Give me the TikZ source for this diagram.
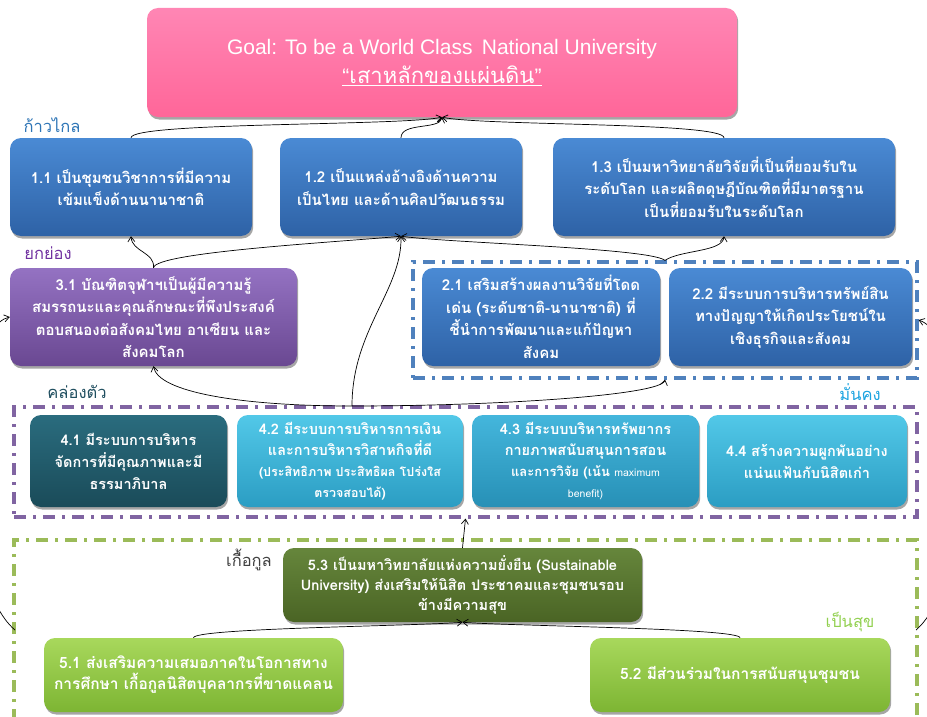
\documentclass[tikz,border=0pt]{standalone}
\usepackage{fontspec}
\setmainfont{Liberation Sans}
\newfontfamily\thaifont[Script=Thai]{Loma}
\usetikzlibrary{shadows,arrows.meta}
\definecolor{pinkT}{HTML}{FF86B4}
\definecolor{pinkB}{HTML}{FF6699}
\definecolor{blueT}{HTML}{4A8AD4}
\definecolor{blueB}{HTML}{2E62A6}
\definecolor{purpT}{HTML}{9472C2}
\definecolor{purpB}{HTML}{6A4892}
\definecolor{tealT}{HTML}{2A6C7E}
\definecolor{tealB}{HTML}{1A4B59}
\definecolor{cyanT}{HTML}{52C8E8}
\definecolor{cyanB}{HTML}{2B9DC3}
\definecolor{cyanBT}{HTML}{44B6DC}
\definecolor{cyanBB}{HTML}{2790B6}
\definecolor{oliveT}{HTML}{66863C}
\definecolor{oliveB}{HTML}{4A6424}
\definecolor{lgT}{HTML}{A8D85C}
\definecolor{lgB}{HTML}{7DB533}
\definecolor{frBlue}{HTML}{4F81BD}
\definecolor{frPurp}{HTML}{8064A2}
\definecolor{frGreen}{HTML}{9BBB59}
\definecolor{lblBlue}{HTML}{2E75B6}
\definecolor{lblPurp}{HTML}{7030A0}
\definecolor{lblTeal}{HTML}{1F4E5F}
\definecolor{lblCyan}{HTML}{1BA3E0}
\definecolor{lblGray}{HTML}{404040}
\definecolor{lblGreen}{HTML}{92D050}
\tikzset{
  box/.style={rounded corners=11pt, text=white, align=center, inner sep=2pt,
    font=\thaifont\bfseries\fontsize{15}{22.5}\selectfont,
    drop shadow={shadow xshift=1.2pt, shadow yshift=-2.5pt, opacity=0.35, fill=black}},
  bluebox/.style={box, top color=blueT, bottom color=blueB},
  purpbox/.style={box, top color=purpT, bottom color=purpB},
  tealbox/.style={box, top color=tealT, bottom color=tealB, font=\thaifont\bfseries\fontsize{14.5}{22}\selectfont},
  cyanbox/.style={box, top color=cyanT, bottom color=cyanB, font=\thaifont\bfseries\fontsize{14.5}{22}\selectfont},
  cyandbox/.style={box, top color=cyanBT, bottom color=cyanBB, font=\thaifont\bfseries\fontsize{14.5}{22}\selectfont},
  olivebox/.style={box, top color=oliveT, bottom color=oliveB, font=\thaifont\bfseries\fontsize{14.5}{20}\selectfont},
  lgbox/.style={box, top color=lgT, bottom color=lgB, font=\thaifont\bfseries\fontsize{15.5}{21}\selectfont},
  frame/.style={draw, line width=3.2pt, dash pattern=on 12pt off 7pt on 3pt off 7pt, inner sep=0pt},
  lbl/.style={font=\thaifont\fontsize{16.5}{18}\selectfont, inner sep=0pt},
  conn/.style={-{Straight Barb[length=5pt,width=7pt,line width=0.7pt]}, line width=0.7pt, black}
}
\begin{document}
\begin{tikzpicture}[x=1pt,y=-1pt]
\useasboundingbox (0,0) rectangle (927,717);
\clip (0,0) rectangle (927,717);
% frames
\node (f2) [frame, color=frBlue, minimum width=504pt, minimum height=116pt] at (665,320) {};
\node (f4) [frame, color=frPurp, minimum width=903pt, minimum height=110pt] at (465.5,462) {};
\node (f5) [frame, color=frGreen, minimum width=903pt, minimum height=200pt] at (465.5,640) {};
% goal
\node (goal) [box, top color=pinkT, bottom color=pinkB, minimum width=590pt, minimum height=109pt, font=\fontsize{21}{29}\selectfont] at (442,62.5)
  {Goal: To be a World Class\, National University\\ \underline{“{\thaifont\fontsize{22}{29}\selectfont เสาหลักของแผ่นดิน}”}};
% level 1
\node (b11) [bluebox, minimum width=242pt, minimum height=98pt] at (131,187)
  {1.1 เป็นชุมชนวิชาการที่มีความ\\เข้มแข็งด้านนานาชาติ};
\node (b12) [bluebox, minimum width=242pt, minimum height=98pt] at (401,187)
  {1.2 เป็นแหล่งอ้างอิงด้านความ\\เป็นไทย และด้านศิลปวัฒนธรรม};
\node (b13) [bluebox, minimum width=342pt, minimum height=98pt] at (724,187)
  {1.3 เป็นมหาวิทยาลัยวิจัยที่เป็นที่ยอมรับใน\\ระดับโลก และผลิตดุษฎีบัณฑิตที่มีมาตรฐาน\\เป็นที่ยอมรับในระดับโลก};
% level 2/3
\node (b31) [purpbox, minimum width=287pt, minimum height=98pt] at (153.5,317)
  {3.1 บัณฑิตจุฬาฯเป็นผู้มีความรู้\\สมรรถนะและคุณลักษณะที่พึงประสงค์\\ตอบสนองต่อสังคมไทย อาเซียน และ\\สังคมโลก};
\node (b21) [bluebox, minimum width=238pt, minimum height=98pt] at (541,317)
  {2.1 เสริมสร้างผลงานวิจัยที่โดด\\เด่น (ระดับชาติ-นานาชาติ) ที่\\ชี้นำการพัฒนาและแก้ปัญหา\\สังคม};
\node (b22) [bluebox, minimum width=243pt, minimum height=98pt] at (790.5,317)
  {2.2 มีระบบการบริหารทรัพย์สิน\\ทางปัญญาให้เกิดประโยชน์ใน\\เชิงธุรกิจและสังคม};
% level 4
\node (b41) [tealbox, minimum width=197pt, minimum height=92pt] at (128.5,461)
  {4.1 มีระบบการบริหาร\\จัดการที่มีคุณภาพและมี\\ธรรมาภิบาล};
\node (b42) [cyanbox, minimum width=226pt, minimum height=92pt, font=\thaifont\bfseries\fontsize{14.5}{21}\selectfont] at (350,461)
  {4.2 มีระบบการบริหารการเงิน\\และการบริหารวิสาหกิจที่ดี\\{\fontsize{12.5}{19}\selectfont(ประสิทธิภาพ ประสิทธิผล โปร่งใส}\\{\fontsize{12.5}{19}\selectfont ตรวจสอบได้)}};
\node (b43) [cyandbox, minimum width=227pt, minimum height=92pt, font=\thaifont\bfseries\fontsize{14.5}{21}\selectfont] at (585.5,461)
  {4.3 มีระบบบริหารทรัพยากร\\กายภาพสนับสนุนการสอน\\{\fontsize{13}{19}\selectfont และการวิจัย (เน้น {\mdseries\fontsize{10.5}{12}\selectfont maximum}}\\{\mdseries\fontsize{10.5}{12}\selectfont benefit)}};
\node (b44) [cyanbox, minimum width=200pt, minimum height=92pt] at (807,461)
  {4.4 สร้างความผูกพันอย่าง\\แน่นแฟ้นกับนิสิตเก่า};
% level 5
\node (b53) [olivebox, minimum width=359pt, minimum height=74pt] at (462.5,585)
  {5.3 เป็นมหาวิทยาลัยแห่งความยั่งยืน (Sustainable\\University) ส่งเสริมให้นิสิต ประชาคมและชุมชนรอบ\\ข้างมีความสุข};
\node (b51) [lgbox, minimum width=299pt, minimum height=74pt] at (193.5,675)
  {5.1 ส่งเสริมความเสมอภาคในโอกาสทาง\\การศึกษา เกื้อกูลนิสิตบุคลากรที่ขาดแคลน};
\node (b52) [lgbox, minimum width=300pt, minimum height=74pt] at (740,675)
  {5.2 มีส่วนร่วมในการสนับสนุนชุมชน};
% labels
\node (l1) [lbl, text=lblBlue] at (52,125) {ก้าวไกล};
\node (l2) [lbl, text=lblPurp] at (48,253) {ยกย่อง};
\node (l3) [lbl, text=lblTeal] at (77,392) {คล่องตัว};
\node (l4) [lbl, text=lblCyan] at (860,392) {มั่นคง};
\node (l5) [lbl, text=lblGray] at (249,560) {เกื้อกูล};
\node (l6) [lbl, text=lblGreen] at (850,622) {เป็นสุข};
% coordinates
\coordinate (p4) at (352,406);
\coordinate (g5w) at (15,630);
\coordinate (g5e) at (916,630);
% connectors
\draw[conn] (b11.north) .. controls (131,122) and (400,126) .. (goal.south);
\draw[conn] (b12.north) .. controls (401,122) and (440,130) .. (goal.south);
\draw[conn] (b13.north) .. controls (724,122) and (484,126) .. (goal.south);
\draw[conn] (b31.north) .. controls (155,252) and (340,242) .. (b12.south);
\draw[conn] (b31.north) .. controls (155,252) and (132,252) .. (b11.south);
\draw[conn] (f2.north) .. controls (650,248) and (450,243) .. (b12.south);
\draw[conn] (f2.north) .. controls (680,250) and (723,252) .. (b13.south);
\draw[conn] (p4) .. controls (352,330) and (402,290) .. (b12.south);
\draw[conn] (p4) .. controls (240,406) and (158,392) .. (b31.south);
\draw[conn] (p4) .. controls (500,406) and (662,395) .. (f2.south);
\draw[conn] (b53.north) -- (f4.south);
\draw[conn] (b51.north) .. controls (193,628) and (420,626) .. (b53.south);
\draw[conn] (b52.north) .. controls (740,628) and (505,626) .. (b53.south);
\draw[conn] (g5w) .. controls (-45,580) and (-45,330) .. (b31.west);
\draw[conn] (g5e) .. controls (975,580) and (975,340) .. (f2.east);
\end{tikzpicture}
\end{document}
